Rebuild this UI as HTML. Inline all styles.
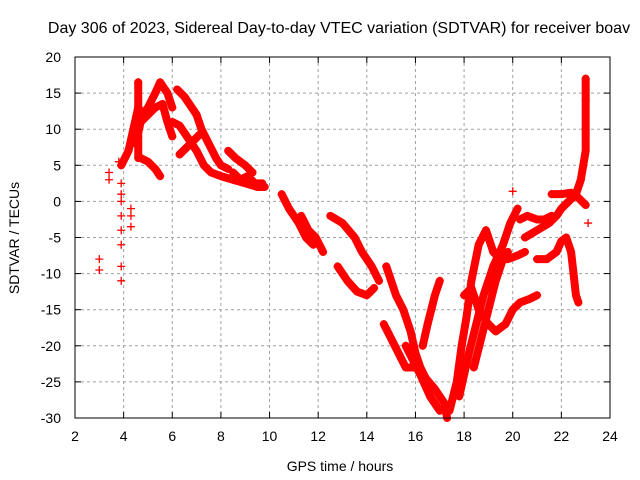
<!DOCTYPE html>
<html><head><meta charset="utf-8"><style>
body{margin:0;background:#fff}
svg{display:block;font-family:"Liberation Sans",sans-serif}
</style></head><body>
<svg id="chart" width="640" height="480">
<text x="339" y="33" text-anchor="middle" font-size="16">Day 306 of 2023, Sidereal Day-to-day VTEC variation (SDTVAR) for receiver boav</text>
<text x="340" y="471" text-anchor="middle" font-size="14">GPS time / hours</text>
<text transform="translate(19,238) rotate(-90)" text-anchor="middle" font-size="14">SDTVAR / TECUs</text>
<g id="grid"></g><g id="ticks"></g><g id="marks"></g>
<rect x="75" y="57" width="535" height="361" fill="none" stroke="#000"/>
</svg>
<script>
const xTicks=[2,4,6,8,10,12,14,16,18,20,22,24];
const yTicks=[20,15,10,5,0,-5,-10,-15,-20,-25,-30];
const tracks=[
[[3.9,5],[4.2,7],[4.4,10],[4.6,13],[4.8,12],[5.0,13],[5.3,15],[5.5,16.5],[5.8,15],[6.0,13]],
[[4.5,8],[4.7,11],[5.0,12],[5.3,13],[5.6,13.5],[5.8,11],[6.0,9]],
[[4.6,16.5],[4.6,12],[4.6,9],[4.6,6]],
[[4.7,6],[5.0,5.5],[5.3,4.5],[5.5,3.5]],
[[6.2,15.5],[6.5,14.5],[6.8,13],[7.0,12],[7.2,10],[7.5,8],[7.8,6],[8.0,5],[8.3,4.5]],
[[6.0,11],[6.3,10.5],[6.6,9],[7.0,7],[7.3,5],[7.6,4],[8.0,3.5],[8.5,3],[9.0,2.5],[9.5,2],[9.8,2]],
[[6.3,6.5],[6.6,7.5],[6.9,8.5],[7.2,9.5]],
[[8.3,7],[8.6,6],[9.0,5],[9.3,4]],
[[8.5,4],[8.8,3],[9.1,3.5],[9.4,2.5],[9.7,2.5]],
[[10.5,1],[10.8,-1],[11.2,-3],[11.5,-5],[11.8,-6]],
[[11.3,-2],[11.6,-4],[11.9,-5],[12.2,-7]],
[[12.5,-2],[13.0,-3],[13.5,-5],[13.8,-7],[14.2,-9],[14.5,-11]],
[[12.8,-9],[13.2,-11],[13.6,-12.5],[14.0,-13],[14.3,-12]],
[[14.8,-9],[15.2,-13],[15.5,-15],[15.8,-18],[16.0,-21],[16.2,-23],[16.5,-25]],
[[14.7,-17],[15.0,-19],[15.3,-21],[15.6,-23],[16.0,-23],[16.3,-24],[16.8,-26],[17.2,-28],[17.3,-30]],
[[15.6,-20],[15.9,-22],[16.2,-24],[16.6,-27],[17.0,-29]],
[[16.3,-20],[16.5,-17],[16.8,-13],[17.0,-11]],
[[17.4,-29],[17.7,-25],[17.9,-20],[18.1,-16],[18.3,-11],[18.6,-6],[18.9,-4]],
[[17.8,-27],[18.0,-24],[18.2,-21],[18.5,-17],[18.8,-13],[19.2,-9],[19.6,-6],[19.9,-3],[20.2,-1]],
[[18.0,-13],[18.3,-12],[18.6,-15],[19.0,-17],[19.3,-18],[19.7,-17],[20.0,-15],[20.3,-14],[20.7,-13.5],[21.0,-13]],
[[18.9,-4],[19.2,-7],[19.5,-8],[19.8,-8],[20.2,-7.5],[20.5,-7]],
[[18.4,-23],[18.7,-19],[19.0,-15],[19.3,-11],[19.6,-8],[19.8,-7]],
[[20.5,-5],[21.0,-4],[21.5,-3],[21.8,-2],[22.0,-1],[22.3,0],[22.6,1],[22.8,3],[23.0,7],[23.0,10],[23.0,14],[23.0,17]],
[[21.0,-8],[21.4,-8],[21.8,-7],[22.0,-5.5],[22.2,-5],[22.4,-7],[22.5,-10],[22.6,-13],[22.7,-14]],
[[21.6,1],[22.0,1],[22.4,1.2],[22.7,0.5],[23.0,-0.5]],
[[20.3,-2.5],[20.6,-2],[21.0,-2.5],[21.3,-2.5],[21.6,-2]]
];
const scatter=[[3.0,-9.5],[3.0,-8],[3.4,3],[3.4,4],[3.9,-11],[3.9,-9],[3.9,-6],[3.9,-4],[3.9,-2],[3.9,0],[3.9,1],[3.9,2.5],[4.3,-3.5],[4.3,-2],[4.3,-1],[3.8,5.5],[20.0,1.4],[23.1,-3]];
const NS='http://www.w3.org/2000/svg';
const X=v=>75+(v-2)*535/22, Y=v=>57+(20-v)*361/50;
function mk(t,a,p){const e=document.createElementNS(NS,t);for(const k in a)e.setAttribute(k,a[k]);p.appendChild(e);return e;}
const grid=document.getElementById('grid'),ticks=document.getElementById('ticks'),marks=document.getElementById('marks');
xTicks.forEach(v=>{const x=X(v);
 if(v>2&&v<24){const g=mk('line',{x1:x,x2:x,y1:57,y2:418,stroke:'#a0a0a0','stroke-dasharray':'3,3'},grid);
 }
 mk('line',{x1:x,x2:x,y1:418,y2:412,stroke:'#000'},ticks);mk('line',{x1:x,x2:x,y1:57,y2:63,stroke:'#000'},ticks);
 const t=mk('text',{x:x,y:441,'text-anchor':'middle','font-size':'14'},ticks);t.textContent=v;
 });
yTicks.forEach(v=>{const y=Y(v);
 if(v<20&&v>-30){const g=mk('line',{x1:75,x2:610,y1:y,y2:y,stroke:'#a0a0a0','stroke-dasharray':'3,3'},grid);
 }
 mk('line',{x1:75,x2:81,y1:y,y2:y,stroke:'#000'},ticks);mk('line',{x1:610,x2:604,y1:y,y2:y,stroke:'#000'},ticks);
 const t=mk('text',{x:61,y:y+5,'text-anchor':'end','font-size':'14'},ticks);t.textContent=v;
 });
function plus(x,y){const p=mk('path',{d:`M${x-4},${y}h8M${x},${y-4}v8`,stroke:'#f00','stroke-width':1.3},marks);
 }
tracks.forEach(tr=>{const pl=mk('polyline',{points:tr.map(p=>X(p[0])+','+Y(p[1])).join(' '),fill:'none',stroke:'#f00','stroke-width':8,'stroke-linejoin':'round','stroke-linecap':'round'},marks);
 
 tr.forEach(p=>plus(X(p[0]),Y(p[1])));});
scatter.forEach(p=>plus(X(p[0]),Y(p[1])));
</script>
</body></html>
